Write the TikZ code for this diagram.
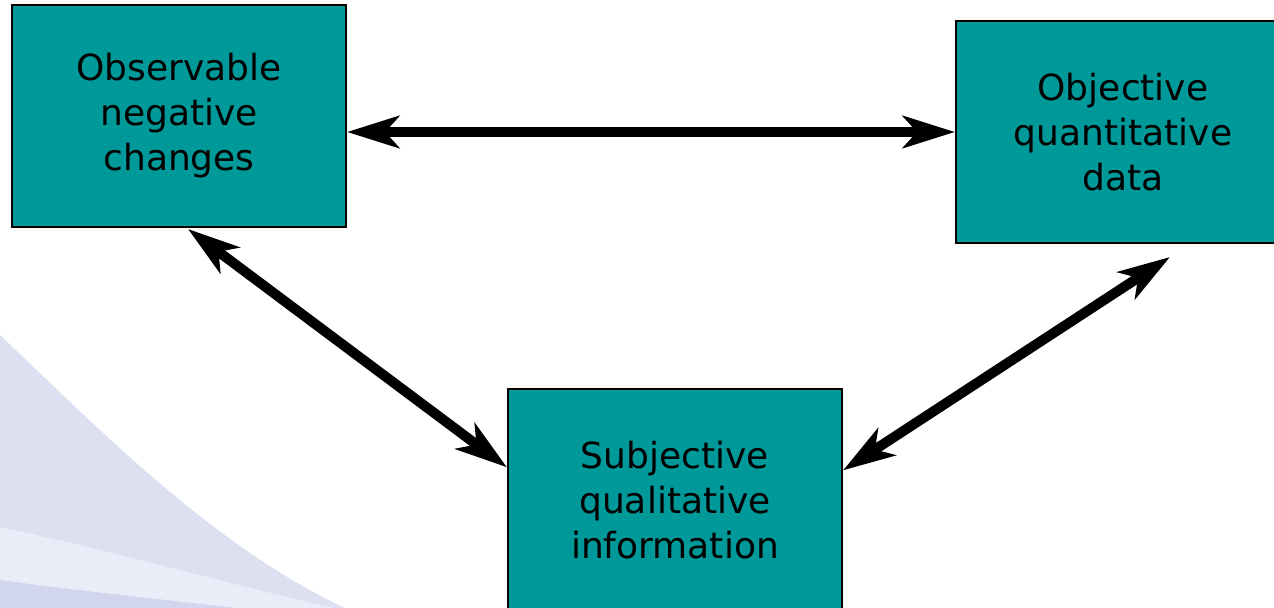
\documentclass[tikz,border=0pt]{standalone}
\usepackage{fontspec}
\setmainfont{DejaVu Sans}
\usetikzlibrary{arrows.meta,calc}
\definecolor{boxteal}{HTML}{009999}
\definecolor{swoosh}{HTML}{DCE0F1}
\definecolor{swooshlight}{HTML}{EAEDF8}
\definecolor{swooshdark}{HTML}{D1D5EE}

\begin{document}
\begin{tikzpicture}[x=0.5pt, y=-0.5pt,
    box/.style={draw=black, line width=1pt, fill=boxteal, minimum width=167pt,
      minimum height=111pt, inner sep=0pt, align=center,
      font=\fontsize{18pt}{22.5pt}\selectfont},
    link/.style={line width=5pt,
      {Stealth[length=26pt, width=16pt, inset=7pt]}-{Stealth[length=26pt, width=16pt, inset=7pt]}}]
    \clip (0,0) rectangle (1274,608);
    % background swoosh
    \fill[swoosh] (0,335) .. controls (90,420) and (210,545) .. (345,608) -- (0,608) -- cycle;
    \fill[swooshlight] (0,527) .. controls (130,555) and (250,590) .. (335,608) -- (235,608)
        .. controls (150,598) and (70,590) .. (0,580) -- cycle;
    \fill[swooshdark] (0,580) .. controls (70,590) and (150,598) .. (235,608) -- (0,608) -- cycle;
    % boxes
    \node[box] (obs) at (179,116) {Observable\\negative\\changes};
    \node[box] (obj) at (1123,132) {Objective\\quantitative\\data};
    \node[box] (sub) at (675,500) {Subjective\\qualitative\\information};
    % links
    \draw[link] (obs.east |- obj.west) -- (obj.west);
    \draw[link] ($(obs.south)+(9,1)$) -- (sub.169);
    \draw[link] (sub.10) -- ($(obj.south)+(47,13)$);
\end{tikzpicture}
\end{document}
